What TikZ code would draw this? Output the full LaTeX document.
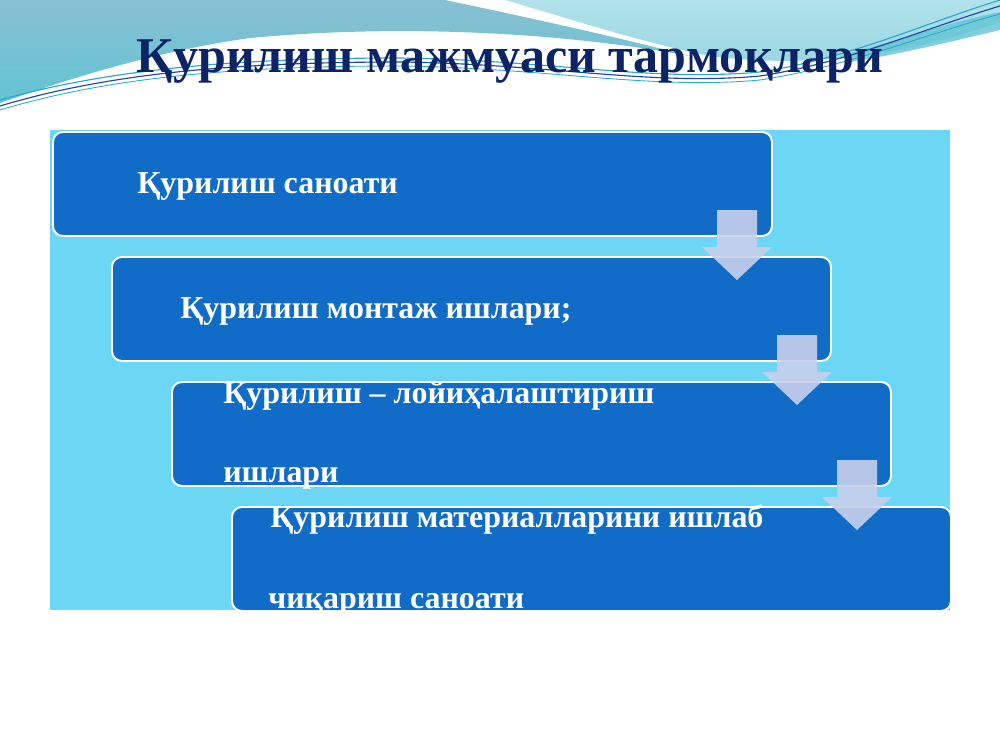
\documentclass[tikz,border=0pt]{standalone}
\usepackage{fontspec}
\setmainfont{Liberation Serif}
\usetikzlibrary{calc}
\definecolor{bgcyan}{RGB}{108,214,245}
\definecolor{boxblue}{RGB}{16,108,198}
\definecolor{arrowfill}{RGB}{200,208,236}
\definecolor{titlenavy}{RGB}{12,36,102}
\definecolor{tealA}{RGB}{136,192,210}
\definecolor{tealB}{RGB}{98,196,212}
\definecolor{cyanA}{RGB}{178,226,234}
\definecolor{cyanB}{RGB}{150,214,226}
\definecolor{lineteal}{RGB}{40,170,196}
\definecolor{lineblue}{RGB}{30,70,160}
\begin{document}
\begin{tikzpicture}[x=0.025cm,y=-0.025cm,
  stagebox/.style={draw=white,line width=1.4pt,fill=boxblue,rounded corners=0.25cm,minimum width=719*0.025cm,minimum height=104*0.025cm,anchor=north west,inner sep=0pt},
  boxtext/.style={text=white,font=\fontsize{22.7pt}{26pt}\selectfont\bfseries,anchor=base west,inner sep=0pt},
  downarrow/.style={fill=arrowfill,opacity=0.9}]
\useasboundingbox (0,0) rectangle (1000,750);
\fill[white] (0,0) rectangle (1000,750);
% top background waves
\shade[top color=tealA,bottom color=tealB] (0,0) -- (445,0) .. controls (540,20) and (620,38) .. (690,56)
  .. controls (560,32) and (400,24) .. (250,38) .. controls (150,52) and (60,82) .. (0,103) -- cycle;
\shade[top color=cyanA,bottom color=cyanB] (505,0) -- (1000,0) -- (1000,22) .. controls (900,58) and (800,68) .. (710,56)
  .. controls (640,42) and (560,16) .. (505,0) -- cycle;
\fill[tealB,opacity=0.8] (840,56) .. controls (900,40) and (950,22) .. (1000,12) -- (1000,30) .. controls (950,42) and (900,54) .. (850,62) -- cycle;
\draw[lineteal,line width=0.8pt] (0,100) .. controls (100,72) and (220,58) .. (400,58) .. controls (550,60) and (650,82) .. (760,72) .. controls (850,58) and (920,25) .. (1000,0);
\draw[lineblue,line width=0.8pt] (0,106) .. controls (100,76) and (220,62) .. (400,62) .. controls (550,64) and (650,86) .. (760,76) .. controls (850,62) and (920,30) .. (1000,6);
\draw[lineteal,line width=0.6pt] (0,110) .. controls (100,80) and (220,66) .. (400,66) .. controls (550,68) and (650,90) .. (760,80) .. controls (850,66) and (920,36) .. (1000,14);
% title
\node[text=titlenavy,font=\fontsize{35.6pt}{40pt}\selectfont\bfseries,anchor=base,inner sep=0pt] (title) at (510,72) {Қурилиш мажмуаси тармоқлари};
% panel
\fill[bgcyan] (50,130) rectangle (950,610);
% boxes
\node[stagebox] (b1) at (52,131) {};
\node[stagebox] (b2) at (111,256) {};
\node[stagebox] (b3) at (171,381) {};
\node[stagebox] (b4) at (231,506) {};
% texts
\node[boxtext] (t1) at (137,193) {Қурилиш саноати};
\node[boxtext] (t2) at (180,318) {Қурилиш монтаж ишлари;};
\node[boxtext] (t3a) at (223,403) {Қурилиш – лойиҳалаштириш};
\node[boxtext] (t3b) at (223,482) {ишлари};
\node[boxtext] (t4a) at (270,527) {Қурилиш материалларини ишлаб};
\node[boxtext] (t4b) at (268,608) {чиқариш саноати};
% arrows
\coordinate (a1) at (737,210);
\coordinate (a2) at (797,335);
\coordinate (a3) at (857,460);
\foreach \a in {a1,a2,a3}{
  \fill[downarrow] ($(\a)+(-20,0)$) -- ($(\a)+(20,0)$) -- ($(\a)+(20,37)$) -- ($(\a)+(35,37)$) -- ($(\a)+(0,70)$) -- ($(\a)+(-35,37)$) -- ($(\a)+(-20,37)$) -- cycle;
}
\end{tikzpicture}
\end{document}
